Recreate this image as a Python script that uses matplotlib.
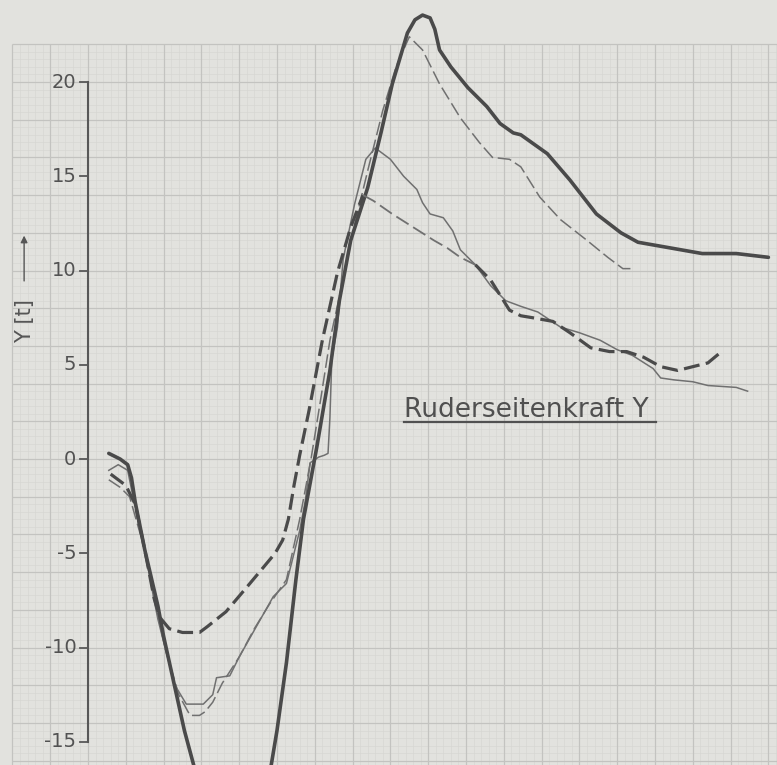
import matplotlib
matplotlib.use("Agg")
import matplotlib.pyplot as plt
import numpy as np

# Ruderseitenkraft Y [t] over time (grid units), four measured runs
t_thick = [1.1, 1.7, 2.1, 2.3, 2.5, 3.0, 3.7, 4.0, 5.1, 6.2, 6.7, 7.4, 8.2, 8.8,
           9.4, 9.7, 10.0, 10.5, 11.0, 11.4, 12.1, 12.8, 13.3, 13.9, 14.8, 15.5,
           16.1, 16.9, 17.3, 17.7, 18.1, 18.35, 18.6, 19.2, 20.1, 21.1, 21.8, 22.5,
           22.9, 24.3, 25.5, 26.9, 28.2, 29.1, 30.8, 32.5, 34.3, 36.0]
y_thick = [0.3, 0.0, -0.3, -1.0, -2.3, -4.8, -7.8, -9.4, -14.4, -18.5, -20.1,
           -20.8, -20.5, -18.9, -17.3, -16.2, -14.4, -10.8, -6.4, -3.2, 0.6, 4.7,
           8.4, 11.6, 14.4, 17.3, 19.9, 22.6, 23.3, 23.55, 23.4, 22.8, 21.7, 20.8,
           19.7, 18.7, 17.8, 17.3, 17.2, 16.2, 14.8, 13.0, 12.0, 11.5, 11.2, 10.9,
           10.9, 10.7]

t_dash = [1.2, 2.0, 2.5, 3.0, 3.5, 3.8, 4.3, 5.0, 5.9, 6.3, 7.3, 8.4, 9.4, 9.9,
          10.3, 10.6, 10.9, 11.2, 11.7, 12.4, 13.2, 13.9, 14.55, 15.1, 16.1, 17.2,
          18.3, 19.0, 19.7, 20.5, 21.3, 21.8, 22.3, 22.9, 23.5, 24.6, 25.5, 26.6,
          27.6, 28.5, 29.4, 30.3, 31.2, 32.0, 32.8, 33.4]
y_dash = [-0.8, -1.4, -2.4, -4.8, -7.4, -8.4, -9.0, -9.2, -9.2, -8.9, -8.1, -6.8,
          -5.6, -5.0, -4.3, -3.2, -1.4, 0.2, 2.6, 6.3, 9.9, 12.3, 14.0, 13.7, 13.0,
          12.3, 11.6, 11.2, 10.7, 10.3, 9.5, 8.7, 7.9, 7.6, 7.5, 7.3, 6.7, 5.9, 5.7,
          5.7, 5.4, 4.9, 4.7, 4.9, 5.1, 5.6]

t_thin = [1.1, 1.6, 2.1, 2.3, 3.0, 3.5, 3.7, 4.1, 4.6, 5.2, 6.1, 6.6, 6.8, 7.5,
          8.0, 8.9, 9.8, 10.5, 11.2, 11.5, 11.75, 12.2, 12.5, 12.7, 12.8, 12.9,
          13.2, 13.5, 14.1, 14.7, 15.2, 16.0, 16.7, 17.4, 17.7, 18.1, 18.8, 19.3,
          19.7, 20.5, 21.3, 22.1, 22.9, 23.8, 25.0, 26.0, 27.1, 28.0, 28.8, 29.9,
          30.3, 31.0, 32.0, 32.8, 34.3, 34.9]
y_thin = [-0.6, -0.3, -0.6, -1.6, -4.8, -7.5, -8.5, -10.1, -12.0, -13.0, -13.0,
          -12.5, -11.6, -11.5, -10.5, -8.9, -7.3, -6.6, -3.8, -2.2, -0.2, 0.1, 0.2,
          0.3, 2.2, 5.3, 7.0, 10.6, 13.5, 15.9, 16.5, 15.9, 15.0, 14.3, 13.6, 13.0,
          12.8, 12.1, 11.1, 10.3, 9.2, 8.4, 8.1, 7.8, 7.0, 6.7, 6.3, 5.8, 5.5, 4.8,
          4.3, 4.2, 4.1, 3.9, 3.8, 3.6]

t_thindash = [1.1, 1.7, 2.2, 3.0, 3.5, 4.1, 4.8, 5.4, 5.9, 6.2, 6.6, 7.1, 8.0, 8.8,
              9.6, 10.5, 11.2, 11.8, 12.3, 12.8, 13.6, 14.1, 14.8, 15.6, 16.3, 17.0,
              17.7, 18.6, 19.7, 20.7, 21.4, 22.3, 22.9, 23.9, 25.0, 26.4, 27.5, 28.3,
              28.7]
y_thindash = [-1.1, -1.5, -2.0, -4.8, -7.4, -10.1, -12.5, -13.6, -13.6, -13.4,
              -12.9, -11.9, -10.5, -9.0, -7.7, -6.4, -3.2, 0.0, 3.1, 6.3, 10.0, 12.4,
              15.3, 18.5, 20.8, 22.4, 21.7, 19.9, 18.1, 16.8, 16.0, 15.9, 15.5, 13.9,
              12.7, 11.6, 10.7, 10.1, 10.1]

y_ticks = [20, 15, 10, 5, 0, -5, -10, -15]
y_tick_labels = ["20", "15", "10", "5", "0", "-5", "-10", "-15"]

paper = "#e2e2de"
ink = "#4a4a4a"
ink_light = "#707070"
grid_major = "#c3c3c0"
grid_minor = "#d7d7d3"

fig = plt.figure(figsize=(7.77, 7.65), dpi=100)
fig.patch.set_facecolor(paper)
ax = fig.add_axes([0, 0, 1, 1])
ax.set_facecolor(paper)
ax.set_xlim(-4.656, 36.455)
ax.set_ylim(-16.23, 24.35)
ax.axis("off")

# graph paper: minor lines every 0.4, major every 2 units
gx0, gx1, gy0, gy1 = -4.0, 36.5, -16.4, 22.0
for v in np.arange(gx0, gx1 + 0.01, 0.4):
    major = abs(v / 2 - round(v / 2)) < 1e-6
    ax.plot([v, v], [gy0, gy1], color=grid_major if major else grid_minor,
            lw=0.9 if major else 0.5, zorder=1 if not major else 2,
            solid_capstyle="butt")
for v in np.arange(-16.0, gy1 + 0.01, 0.4):
    major = abs(v / 2 - round(v / 2)) < 1e-6
    ax.plot([gx0, gx1], [v, v], color=grid_major if major else grid_minor,
            lw=0.9 if major else 0.5, zorder=1 if not major else 2,
            solid_capstyle="butt")

# Y axis with ticks and labels
ax.plot([0, 0], [-15, 20], color="#585858", lw=1.5, zorder=3)
for yt, lab in zip(y_ticks, y_tick_labels):
    ax.plot([-0.42, 0], [yt, yt], color="#585858", lw=1.3, zorder=3)
    ax.text(-0.62, yt, lab, ha="right", va="center", fontsize=14,
            color="#525252", family="DejaVu Sans", zorder=3)

ax.text(-3.35, 7.3, "Y [t]", rotation=90, ha="center", va="center",
        fontsize=15, color="#555555", family="DejaVu Sans")
ax.annotate("", xy=(-3.38, 12.0), xytext=(-3.38, 9.3),
            arrowprops=dict(arrowstyle="-|>", color="#555555", lw=1.0,
                            mutation_scale=10))

ax.text(16.72, 2.23, "Ruderseitenkraft Y", ha="left", va="baseline",
        fontsize=19, color="#505050", family="DejaVu Sans", zorder=3)
ax.plot([16.72, 30.05], [1.98, 1.98], color="#505050", lw=1.6, zorder=3)

# curves
ax.plot(t_thick, y_thick, color=ink, lw=2.6, zorder=5,
        solid_joinstyle="round", solid_capstyle="round")
ax.plot(t_thin, y_thin, color=ink_light, lw=1.1, zorder=4,
        solid_joinstyle="round")
ax.plot(t_thindash, y_thindash, color=ink_light, lw=1.1, zorder=4,
        dashes=(9, 3))

i0 = t_dash.index(14.55)
i1 = t_dash.index(20.5)
ax.plot(t_dash[:i0 + 1], y_dash[:i0 + 1], color=ink, lw=2.3, zorder=5,
        dashes=(5, 2))
ax.plot(t_dash[i0:i1 + 1], y_dash[i0:i1 + 1], color=ink_light, lw=1.3, zorder=5,
        dashes=(8, 3))
ax.plot(t_dash[i1:], y_dash[i1:], color=ink, lw=2.3, zorder=5,
        dashes=(5, 2))

fig.savefig("out.png", dpi=100, facecolor=paper)
